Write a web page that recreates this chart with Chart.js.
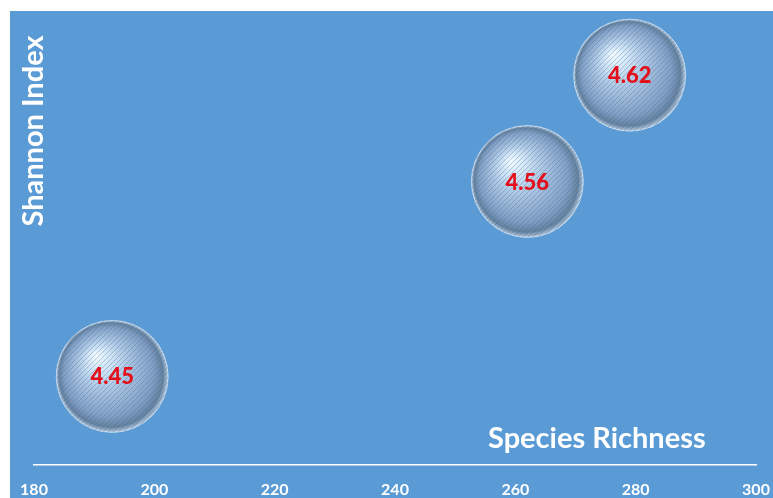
<!DOCTYPE html>
<html>
<head>
<meta charset="utf-8">
<script src="https://cdn.jsdelivr.net/npm/chart.js@4.4.0/dist/chart.umd.min.js"></script>
<style>
  html, body { margin: 0; padding: 0; background: #fff; }
  #wrap { width: 773px; height: 498px; }
</style>
</head>
<body>
<div id="wrap"><canvas id="chart" width="773" height="498"></canvas></div>
<script>
// data
const richness = [193, 262, 279];
const shannon = [4.45, 4.56, 4.62];
const xTicks = [180, 200, 220, 240, 260, 280, 300];
const xTitle = 'Species Richness';
const yTitle = 'Shannon Index';

const FONT = 'Lato, "Open Sans", sans-serif';

// diagonal stripes on the spheres
const makeStripes = () => {
  const c = document.createElement('canvas');
  c.width = 5; c.height = 5;
  const g = c.getContext('2d');
  g.strokeStyle = 'rgba(70,100,140,0.32)';
  g.lineWidth = 1;
  g.beginPath();
  g.moveTo(-1, 6); g.lineTo(6, -1);
  g.moveTo(-1, 1); g.lineTo(1, -1);
  g.moveTo(4, 6); g.lineTo(6, 4);
  g.stroke();
  return c;
};
const stripes = makeStripes();

// radial gradient for a bubble, placed from the library's own scales
const sphereFill = (context) => {
  const chart = context.chart;
  const raw = context.raw;
  if (!raw || !chart.scales.x || !chart.scales.y) return '#a9c6e4';
  const cx = chart.scales.x.getPixelForValue(raw.x);
  const cy = chart.scales.y.getPixelForValue(raw.y);
  const r = 56;
  if (!isFinite(cx) || !isFinite(cy)) return '#a9c6e4';
  const g = chart.ctx.createRadialGradient(cx - r * 0.3, cy - r * 0.38, 0, cx, cy, r);
  g.addColorStop(0, '#f4fcff');
  g.addColorStop(0.15, '#d9ecfa');
  g.addColorStop(0.45, '#aac6e3');
  g.addColorStop(0.8, '#809fc5');
  g.addColorStop(0.93, '#63819f');
  g.addColorStop(1, '#b9cee3');
  return g;
};

const decor = {
  id: 'decor',
  beforeDraw(chart) {
    const ctx = chart.ctx;
    ctx.save();
    ctx.fillStyle = '#5b9bd5';
    ctx.fillRect(10, 11, chart.width - 10, chart.height - 11);
    ctx.restore();
  },
  afterDatasetsDraw(chart) {
    const ctx = chart.ctx;
    const meta = chart.getDatasetMeta(0);
    const pattern = ctx.createPattern(stripes, 'repeat');
    meta.data.forEach((pt, i) => {
      const r = pt.options.radius;
      ctx.save();
      ctx.beginPath();
      ctx.arc(pt.x, pt.y, r, 0, Math.PI * 2);
      ctx.clip();
      ctx.fillStyle = pattern;
      ctx.fillRect(pt.x - r, pt.y - r, r * 2, r * 2);
      ctx.restore();

      ctx.save();
      ctx.fillStyle = '#e3101b';
      ctx.font = '900 22px ' + FONT;
      ctx.textAlign = 'center';
      ctx.textBaseline = 'middle';
      ctx.fillText(shannon[i].toFixed(2), pt.x, pt.y + 1);
      ctx.restore();
    });

    // titles
    ctx.save();
    ctx.fillStyle = '#ffffff';
    ctx.font = 'bold 29px ' + FONT;
    ctx.textAlign = 'left';
    ctx.textBaseline = 'alphabetic';
    ctx.fillText(xTitle, 488, 448);
    ctx.translate(43, 131);
    ctx.rotate(-Math.PI / 2);
    ctx.textAlign = 'center';
    ctx.fillText(yTitle, 0, 0);
    ctx.restore();
  }
};

new Chart(document.getElementById('chart'), {
  type: 'bubble',
  data: {
    datasets: [{
      data: richness.map((v, i) => ({ x: v, y: shannon[i] })),
      radius: 56,
      backgroundColor: sphereFill,
      borderColor: 'rgba(225,238,250,0.6)',
      borderWidth: 1,
      clip: false
    }]
  },
  options: {
    responsive: false,
    animation: false,
    events: [],
    layout: { autoPadding: false, padding: { left: 34, right: 17, top: 22, bottom: 0 } },
    plugins: { legend: { display: false }, tooltip: { enabled: false } },
    scales: {
      x: {
        type: 'linear',
        min: xTicks[0],
        max: xTicks[xTicks.length - 1],
        afterBuildTicks: (axis) => { axis.ticks = xTicks.map(v => ({ value: v })); },
        afterFit: (axis) => {
          axis.height = 33;
          axis.paddingLeft = 0;
          axis.paddingRight = 0;
        },
        grid: { display: false, drawTicks: false },
        border: { display: true, color: '#ffffff', width: 1.5 },
        ticks: {
          color: '#ffffff',
          padding: 15,
          maxRotation: 0,
          font: { family: FONT, size: 16, weight: 'bold' }
        }
      },
      y: {
        display: false,
        min: 4.40,
        max: 4.65
      }
    }
  },
  plugins: [decor]
});
</script>
</body>
</html>
